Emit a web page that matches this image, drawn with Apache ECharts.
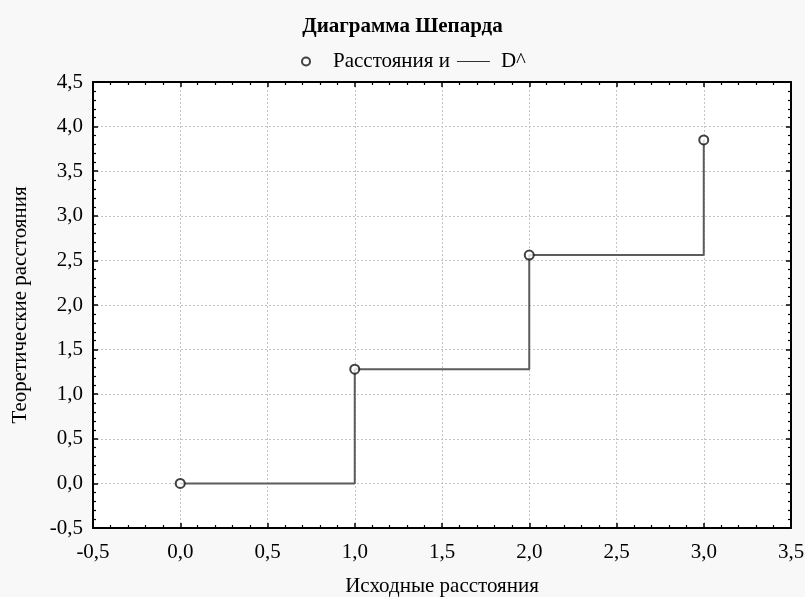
<!DOCTYPE html>
<html>
<head>
<meta charset="utf-8">
<script src="https://cdn.jsdelivr.net/npm/echarts@6/dist/echarts.min.js"></script>
<style>
  html, body { margin: 0; padding: 0; background: #f8f8f8; }
  #main { width: 805px; height: 597px; }
</style>
</head>
<body>
<div id="main"></div>
<script>
// Исходные и теоретические расстояния (диаграмма Шепарда)
var sourceDist = [0.0, 1.0, 2.0, 3.0];
var theorDist = [0.0, 1.28, 2.56, 3.85];
var stepDist = [0.0, 1.28, 2.56, 3.85];
var titleText = 'Диаграмма Шепарда';
var seriesNames = ['Расстояния и', 'D^'];

var fontFamily = '"Liberation Serif", "DejaVu Serif", serif';

function fmt(v) {
    return v.toFixed(1).replace('.', ',');
}

var points = sourceDist.map(function (x, i) { return [x, theorDist[i]]; });
var steps = sourceDist.map(function (x, i) { return [x, stepDist[i]]; });

function axisBase(pos, min, max, main) {
    return {
        type: 'value',
        position: pos,
        min: min,
        max: max,
        interval: 0.5,
        axisLine: { show: true, onZero: false, lineStyle: { color: '#000', width: 2 } },
        axisTick: { show: true, inside: true, length: 5, lineStyle: { color: '#000', width: 1.5 } },
        minorTick: { show: true, splitNumber: 5, length: 3, lineStyle: { color: '#000', width: 1.2 } },
        axisLabel: {
            show: main,
            formatter: fmt,
            color: '#000',
            fontFamily: fontFamily,
            fontSize: 21,
            margin: 14
        },
        splitLine: { show: main, lineStyle: { color: '#c4c4c4', type: [2, 2], width: 1 } },
        minorSplitLine: { show: false }
    };
}

var xMain = axisBase('bottom', -0.5, 3.5, true);
xMain.name = 'Исходные расстояния';
xMain.nameLocation = 'middle';
xMain.nameGap = 48;
xMain.nameTextStyle = { color: '#000', fontFamily: fontFamily, fontSize: 21 };

var yMain = axisBase('left', -0.5, 4.5, true);
yMain.name = 'Теоретические расстояния';
yMain.nameLocation = 'middle';
yMain.nameGap = 62;
yMain.nameTextStyle = { color: '#000', fontFamily: fontFamily, fontSize: 21 };
yMain.axisLabel.margin = 10;

var myChart = echarts.init(document.getElementById('main'));
myChart.setOption({
    backgroundColor: '#f8f8f8',
    animation: false,
    title: {
        left: 'center',
        top: 11,
        text: titleText,
        textStyle: { color: '#000', fontFamily: fontFamily, fontSize: 21, fontWeight: 'bold' }
    },
    legend: {
        top: 46,
        left: 296,
        itemGap: 2,
        itemWidth: 44,
        itemHeight: 8,
        textStyle: { color: '#000', fontFamily: fontFamily, fontSize: 21 },
        data: [
            { name: seriesNames[0] },
            { name: seriesNames[1], icon: 'path://M0,0M5,0L38,0L38,1.2L5,1.2ZM44,1.2' }
        ]
    },
    grid: {
        left: 93,
        right: 14,
        top: 82,
        bottom: 69,
        outerBoundsMode: 'none',
        containLabel: false,
        show: true,
        backgroundColor: '#fff',
        borderWidth: 0
    },
    xAxis: [xMain, axisBase('top', -0.5, 3.5, false)],
    yAxis: [yMain, axisBase('right', -0.5, 4.5, false)],
    series: [
        {
            name: seriesNames[1],
            type: 'line',
            step: 'end',
            data: steps,
            symbol: 'none',
            lineStyle: { color: '#5c5c5c', width: 2 },
            itemStyle: { color: '#333' },
            z: 2
        },
        {
            name: seriesNames[0],
            type: 'scatter',
            data: points,
            symbol: 'circle',
            symbolSize: 9,
            itemStyle: { color: '#fff', borderColor: '#111', borderWidth: 2 },
            z: 3
        }
    ]
});
</script>
</body>
</html>
